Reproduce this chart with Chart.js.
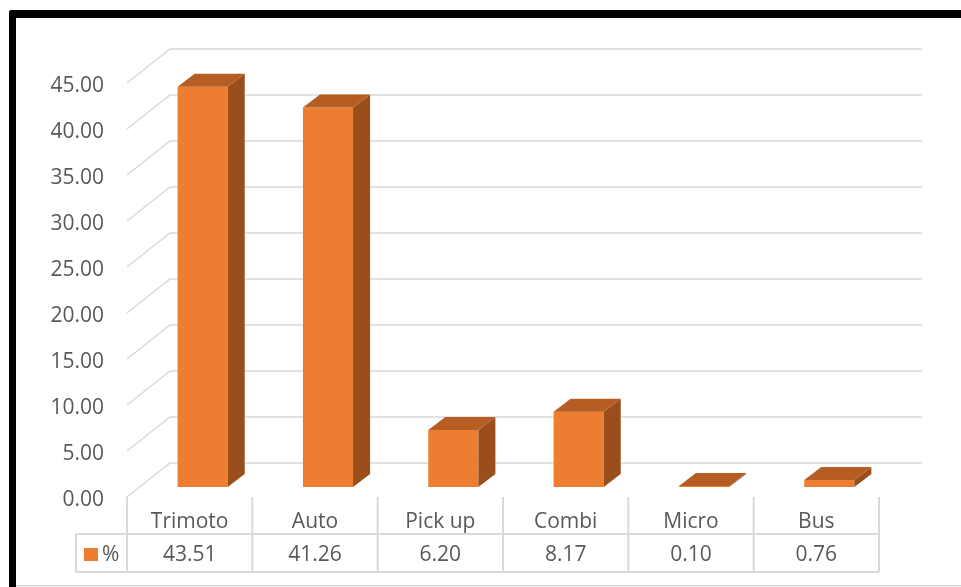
<!DOCTYPE html>
<html>
<head>
<meta charset="utf-8">
<script src="https://cdn.jsdelivr.net/npm/chart.js@4.4.0/dist/chart.umd.min.js"></script>
<style>
  html, body { margin: 0; padding: 0; background: #fff; overflow: hidden; }
  #frame { position: absolute; left: 9px; top: 10px; width: 1000px; height: 700px;
           border-top: 8px solid #000; border-left: 7px solid #000; border-top-left-radius: 3px; }
  #wrap { position: absolute; left: 0; top: 0; width: 961px; height: 587px; }
</style>
</head>
<body>
<div id="frame"></div>
<div id="wrap"><canvas id="myChart"></canvas></div>
<script>
// data
const categories = ['Trimoto', 'Auto', 'Pick up', 'Combi', 'Micro', 'Bus'];
const percentages = [43.51, 41.26, 6.20, 8.17, 0.10, 0.76];
const seriesName = '%';
const yTickValues = [0, 5, 10, 15, 20, 25, 30, 35, 40, 45];

// 3d look
const FONT = { family: '"Open Sans", sans-serif', size: 21 };
const TEXT = '#595959';
const LINE = '#d9d9d9';
const BAR_DX = 17, BAR_DY = 13;      // bar depth
const FRONT_DX = -13, FRONT_DY = 10;  // front plane from bar plane
const BACK_DX = 30, BACK_DY = -24;    // back wall from bar plane

const threeD = {
    id: 'threeD',
    beforeDatasetsDraw(chart) {
        const ctx = chart.ctx, a = chart.chartArea, y = chart.scales.y;
        ctx.save();
        ctx.strokeStyle = LINE;
        ctx.lineWidth = 1.5;
        y.ticks.forEach(t => {
            const py = y.getPixelForValue(t.value);
            ctx.beginPath();
            ctx.moveTo(a.left + FRONT_DX, py + FRONT_DY);
            ctx.lineTo(a.left + BACK_DX, py + BACK_DY);
            ctx.lineTo(a.right + BACK_DX, py + BACK_DY);
            ctx.stroke();
        });
        ctx.restore();
    },
    afterDatasetsDraw(chart) {
        const ctx = chart.ctx;
        const meta = chart.getDatasetMeta(0);
        ctx.save();
        meta.data.forEach(bar => {
            const p = bar.getProps(['x', 'y', 'base', 'width'], true);
            const l = p.x - p.width / 2, r = p.x + p.width / 2;
            // side
            ctx.fillStyle = '#9a4e1c';
            ctx.beginPath();
            ctx.moveTo(r, p.y);
            ctx.lineTo(r + BAR_DX, p.y - BAR_DY);
            ctx.lineTo(r + BAR_DX, p.base - BAR_DY);
            ctx.lineTo(r, p.base);
            ctx.closePath();
            ctx.fill();
            // top
            ctx.fillStyle = '#b55d22';
            ctx.beginPath();
            ctx.moveTo(l, p.y);
            ctx.lineTo(l + BAR_DX, p.y - BAR_DY);
            ctx.lineTo(r + BAR_DX, p.y - BAR_DY);
            ctx.lineTo(r, p.y);
            ctx.closePath();
            ctx.fill();
        });
        ctx.restore();
    },
    afterDraw(chart) {
        const ctx = chart.ctx, a = chart.chartArea;
        const x = chart.scales.x, y = chart.scales.y;
        const top = y.getPixelForValue(0) + FRONT_DY;
        const row1 = a.bottom + 47, row2 = a.bottom + 85;
        const bounds = [];
        for (i = 0; i <= categories.length; i++) {
            bounds.push(x.getPixelForValue(i - 0.5) + FRONT_DX);
        }
        const legLeft = bounds[0] - 51;
        ctx.save();
        ctx.strokeStyle = LINE;
        ctx.lineWidth = 2;
        ctx.beginPath();
        bounds.forEach(bx => { ctx.moveTo(bx, top); ctx.lineTo(bx, row2); });
        ctx.moveTo(legLeft, row1); ctx.lineTo(legLeft, row2);
        ctx.moveTo(legLeft, row1); ctx.lineTo(bounds[bounds.length - 1], row1);
        ctx.moveTo(legLeft, row2); ctx.lineTo(bounds[bounds.length - 1], row2);
        ctx.stroke();

        // values row
        const mid = (row1 + row2) / 2 + 2;
        ctx.font = FONT.size + 'px ' + FONT.family;
        ctx.fillStyle = TEXT;
        ctx.textAlign = 'center';
        ctx.textBaseline = 'middle';
        chart.data.datasets[0].data.forEach((v, i) => {
            ctx.fillText(v.toFixed(2), (bounds[i] + bounds[i + 1]) / 2, mid);
        });
        // legend key
        ctx.fillStyle = chart.data.datasets[0].backgroundColor;
        ctx.fillRect(legLeft + 8, mid - 7, 14, 13);
        ctx.fillStyle = TEXT;
        ctx.textAlign = 'left';
        ctx.fillText(chart.data.datasets[0].label, legLeft + 26, mid);

        // bottom edge of chart box
        ctx.fillStyle = LINE;
        ctx.fillRect(16, 585, 945, 1.5);
        ctx.restore();
    }
};

new Chart(document.getElementById('myChart'), {
    type: 'bar',
    data: {
        labels: categories,
        datasets: [{
            label: seriesName,
            data: percentages,
            backgroundColor: '#ED7D31',
            borderWidth: 0,
            barPercentage: 0.4,
            categoryPercentage: 1.0
        }]
    },
    options: {
        responsive: true,
        maintainAspectRatio: false,
        animation: false,
        layout: { padding: { left: 0, right: 69, top: 73, bottom: 0 } },
        plugins: { legend: { display: false }, tooltip: { enabled: false } },
        scales: {
            x: {
                grid: { display: false },
                border: { display: false },
                ticks: { font: FONT, color: TEXT, padding: 14, labelOffset: FRONT_DX },
                afterFit: s => { s.height = 100; }
            },
            y: {
                min: 0,
                max: 45,
                grid: { display: false },
                border: { display: false },
                afterBuildTicks: s => { s.ticks = yTickValues.map(v => ({ value: v })); },
                ticks: {
                    font: FONT, color: TEXT, padding: 28, labelOffset: 13,
                    callback: v => Number(v).toFixed(2)
                },
                afterFit: s => { s.width = 140; }
            }
        }
    },
    plugins: [threeD]
});
</script>
</body>
</html>
